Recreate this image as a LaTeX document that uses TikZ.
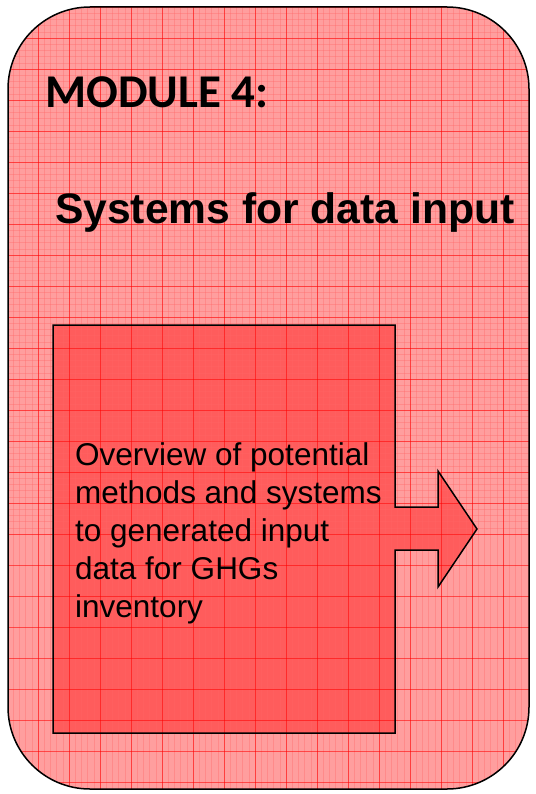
\documentclass[tikz,border=0pt]{standalone}
\usepackage{fontspec}
\setmainfont{Liberation Sans}
\newfontfamily\calibri{Carlito}
\definecolor{palepink}{rgb}{1.0, 0.62, 0.62}
\definecolor{deeppink}{rgb}{1.0, 0.36, 0.36}
\usetikzlibrary{positioning}

\begin{document}
\begin{tikzpicture}[x=1pt, y=-1pt,
    minorgrid/.style={draw=red!60, line width=0.3pt, opacity=0.35},
    majorgrid/.style={draw=red, line width=0.5pt, opacity=0.55},
    modtitle/.style={anchor=base west, inner sep=0pt, font=\calibri\bfseries\fontsize{47}{56}\selectfont},
    subtitle/.style={anchor=base west, inner sep=0pt, font=\bfseries\fontsize{42.6}{50}\selectfont},
    bodytext/.style={anchor=base west, inner sep=0pt, align=left, font=\fontsize{31.5}{38}\selectfont}]
            \useasboundingbox (0,0) rectangle (535,794);
            % Module card
            \fill[palepink, rounded corners=82pt] (8,7) rectangle (529,789);
            
            % Box with arrow
            \fill[deeppink] (53,325) -- (395,325) -- (395,507) -- (438,507) -- (438,471) -- (477,529)
                -- (438,587) -- (438,550) -- (395,550) -- (395,733) -- (53,733) -- cycle;
            
            % Grid paper
            \begin{scope}
                \clip[rounded corners=82pt] (8,7) rectangle (529,789);
                \foreach \k in {0,...,85} {
                    \draw[minorgrid] (7+6.2*\k,7) -- (7+6.2*\k,789);
                    \draw[minorgrid] (8,7+6.2*\k) -- (529,7+6.2*\k);
                }
                \foreach \k in {0,...,26} {
                    \draw[majorgrid] (7+31*\k,7) -- (7+31*\k,789);
                    \draw[majorgrid] (8,7+31*\k) -- (529,7+31*\k);
                }
            \end{scope}
            
            % Outlines
            \draw[line width=1.5pt, rounded corners=82pt] (8,7) rectangle (529,789);
            \draw[line width=1.5pt] (53,325) -- (395,325) -- (395,507) -- (438,507) -- (438,471) -- (477,529)
                -- (438,587) -- (438,550) -- (395,550) -- (395,733) -- (53,733) -- cycle;
            
            % Texts
            \node[modtitle] (module) at (45,108) {MODULE 4:};
            \node[subtitle] (systems) at (55,223) {Systems for data input};
            \node[bodytext] (overview) at (75,617) {Overview of potential\\methods and systems\\to generated input\\data for GHGs\\inventory};

        \end{tikzpicture}
\end{document}
